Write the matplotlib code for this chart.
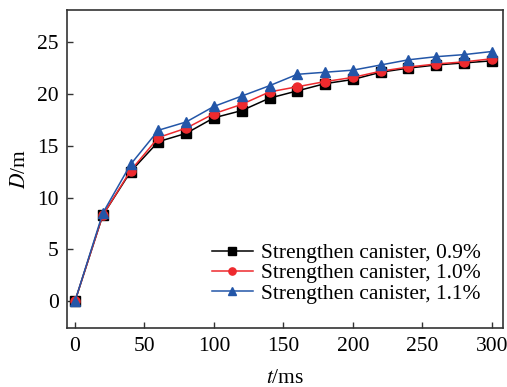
import matplotlib
matplotlib.use("Agg")
import matplotlib.pyplot as plt

t = [0, 20, 40, 60, 80, 100, 120, 140, 160, 180, 200, 220, 240, 260, 280, 300]
d_09 = [0, 8.3, 12.5, 15.4, 16.2, 17.7, 18.4, 19.6, 20.3, 21.0, 21.4, 22.1, 22.5, 22.8, 23.0, 23.2]
d_10 = [0, 8.3, 12.6, 15.8, 16.7, 18.1, 19.0, 20.2, 20.7, 21.2, 21.6, 22.2, 22.6, 22.9, 23.1, 23.4]
d_11 = [0, 8.5, 13.2, 16.5, 17.3, 18.8, 19.8, 20.8, 21.9, 22.1, 22.3, 22.8, 23.3, 23.6, 23.8, 24.1]
labels = ["Strengthen canister, 0.9%", "Strengthen canister, 1.0%", "Strengthen canister, 1.1%"]
xticks = [0, 50, 100, 150, 200, 250, 300]
yticks = [0, 5, 10, 15, 20, 25]

plt.rcParams['font.family'] = ['Liberation Serif', 'DejaVu Serif']
plt.rcParams['mathtext.fontset'] = 'stix'

fig = plt.figure(figsize=(5.07, 3.87), dpi=100)
ax = fig.add_axes([0.132, 0.152, 0.860, 0.822])

styles = [("#000000", "s"), ("#ee2a2e", "o"), ("#2356a8", "^")]
for y, lab, (c, m) in zip([d_09, d_10, d_11], labels, styles):
    ax.plot(t, y, color=c, marker=m, markersize=6.5, linewidth=1.1, label=lab)

ax.set_xlim(-5.8, 308)
ax.set_ylim(-2.6, 28.1)
ax.set_xticks(xticks)
ax.set_yticks(yticks)
ax.tick_params(direction='in', labelsize=15.5, length=4, width=1, colors='#333333', labelcolor='black', pad=6)
for s in ax.spines.values():
    s.set_linewidth(1.2)
    s.set_color('#333333')
ax.set_xlabel(r'$t$/ms', fontsize=15.5, labelpad=10)
ax.set_ylabel(r'$D$/m', fontsize=15.5, labelpad=5)
ax.legend(loc='lower right', frameon=False, fontsize=15.5, handlelength=1.9,
          labelspacing=0.0, handletextpad=0.4, borderaxespad=0.3, markerscale=0.8,
          bbox_to_anchor=(0.985, 0.03))

fig.savefig("out.png", dpi=100)
